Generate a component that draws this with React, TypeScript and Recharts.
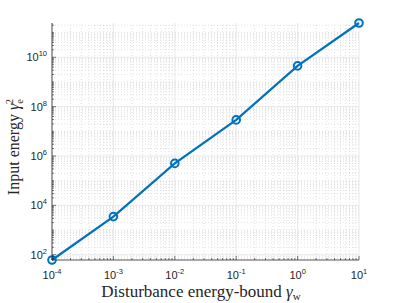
import React from "react";
import { LineChart, Line, XAxis, YAxis, ReferenceLine } from "recharts";

const gammaW = [1e-4, 1e-3, 1e-2, 1e-1, 1, 10];
const inputEnergy = [61, 3.5e3, 5.0e5, 2.9e7, 4.5e9, 2.45e11];
const xTickExps = [-4, -3, -2, -1, 0, 1];
const yTickExps = [2, 4, 6, 8, 10];
const xDomain = [1e-4, 10];
const yDomain = [61, 2.45e11];

const data = gammaW.map((x, i) => ({ x, y: inputEnergy[i] }));

const xMajor = xTickExps.map((e) => Math.pow(10, e));
const yMajor = yTickExps.map((e) => Math.pow(10, e));

function minorValues(lo: number, hi: number, majors: number[]) {
  const out: number[] = [];
  for (let d = Math.floor(Math.log10(lo)); d <= Math.ceil(Math.log10(hi)); d++) {
    for (let k = 1; k <= 9; k++) {
      const v = k * Math.pow(10, d);
      if (v >= lo * 0.999 && v <= hi * 1.001) {
        if (!majors.some((m) => Math.abs(Math.log10(m) - Math.log10(v)) < 1e-6)) out.push(v);
      }
    }
  }
  return out;
}

const xMinor = minorValues(xDomain[0], xDomain[1], xMajor);
const yMinor = minorValues(yDomain[0], yDomain[1], yMajor);
const xAll = [...xMajor, ...xMinor].sort((a, b) => a - b);
const yAll = [...yMajor, ...yMinor].sort((a, b) => a - b);

const isMajor = (v: number, majors: number[]) =>
  majors.some((m) => Math.abs(Math.log10(m) - Math.log10(v)) < 1e-6);

const AXIS = "#262626";
const TICKFONT = "'Liberation Sans', Arial, sans-serif";
const SERIF = "'Liberation Serif', 'Times New Roman', serif";
const BLUE = "#0072BD";

const expLabel = (v: number) => Math.round(Math.log10(v)).toString();

const XTick = (props: any) => {
  const { x, y, payload, top } = props;
  const v = payload.value;
  const maj = isMajor(v, xMajor);
  const len = maj ? 4 : 2;
  const dir = top ? 1 : -1;
  return (
    <g>
      <line x1={x} x2={x} y1={y} y2={y + dir * len} stroke={AXIS} strokeWidth={0.6} />
      {!top && maj && (
        <text x={x} y={y + 19} textAnchor="middle" fontFamily={TICKFONT} fontSize={11} fill={AXIS}>
          <tspan>10</tspan>
          <tspan dy={-5} fontSize={7.5}>{expLabel(v)}</tspan>
        </text>
      )}
    </g>
  );
};

const YTick = (props: any) => {
  const { x, y, payload, right } = props;
  const v = payload.value;
  const maj = isMajor(v, yMajor);
  const len = maj ? 4 : 2;
  const dir = right ? -1 : 1;
  return (
    <g>
      <line x1={x} x2={x + dir * len} y1={y} y2={y} stroke={AXIS} strokeWidth={0.6} />
      {!right && maj && (
        <text x={x - 5} y={y + 4} textAnchor="end" fontFamily={TICKFONT} fontSize={11} fill={AXIS}>
          <tspan>10</tspan>
          <tspan dy={-5} fontSize={7.5}>{expLabel(v)}</tspan>
        </text>
      )}
    </g>
  );
};

const XLabel = () => (
  <text x={201} y={297} textAnchor="middle" fontFamily={SERIF} fontSize={17} fill={AXIS}>
    <tspan>Disturbance energy-bound </tspan>
    <tspan fontStyle="italic">γ</tspan>
    <tspan dy={3} fontSize={11}>w</tspan>
  </text>
);

const YLabel = () => (
  <text
    x={0}
    y={0}
    transform="translate(19,147) rotate(-90)"
    textAnchor="middle"
    fontFamily={SERIF}
    fontSize={16}
    fill={AXIS}
  >
    <tspan>Input energy </tspan>
    <tspan fontStyle="italic">γ</tspan>
    <tspan dy={3.5} fontSize={10.5}>e</tspan>
    <tspan dy={-9.5} dx={-5} fontSize={10.5}>2</tspan>
  </text>
);

export default function App() {
  return (
    <div style={{ position: "absolute", left: 0, top: 0, background: "#fff" }}>
      <LineChart width={397} height={303} data={data} margin={{ top: 23, right: 38, bottom: 0, left: 0 }}>
        {xMinor.map((v) => (
          <ReferenceLine key={"xm" + v} x={v} stroke="#cfcfcf" strokeDasharray="1 2" strokeWidth={0.6} />
        ))}
        {yMinor.map((v) => (
          <ReferenceLine key={"ym" + v} y={v} stroke="#cfcfcf" strokeDasharray="1 2" strokeWidth={0.6} />
        ))}
        {xMajor.map((v) => (
          <ReferenceLine key={"xM" + v} x={v} stroke="#e3e3e3" strokeWidth={0.8} />
        ))}
        {yMajor.map((v) => (
          <ReferenceLine key={"yM" + v} y={v} stroke="#e3e3e3" strokeWidth={0.8} />
        ))}
        <XAxis
          dataKey="x"
          type="number"
          scale="log"
          domain={xDomain}
          ticks={xAll}
          interval={0}
          height={43}
          tickSize={0}
          tickMargin={0}
          tickLine={false}
          axisLine={{ stroke: AXIS, strokeWidth: 0.8 }}
          tick={<XTick />}
          label={{ content: () => <XLabel /> }}
        />
        <XAxis
          xAxisId="top"
          orientation="top"
          dataKey="x"
          type="number"
          scale="log"
          domain={xDomain}
          ticks={xAll}
          interval={0}
          height={0}
          tickSize={0}
          tickMargin={0}
          tickLine={false}
          axisLine={{ stroke: AXIS, strokeWidth: 0.8 }}
          tick={<XTick top />}
        />
        <YAxis
          type="number"
          scale="log"
          domain={yDomain}
          ticks={yAll}
          interval={0}
          width={52}
          tickSize={0}
          tickMargin={0}
          tickLine={false}
          axisLine={{ stroke: AXIS, strokeWidth: 0.8 }}
          tick={<YTick />}
          label={{ content: () => <YLabel /> }}
        />
        <YAxis
          yAxisId="right"
          orientation="right"
          type="number"
          scale="log"
          domain={yDomain}
          ticks={yAll}
          interval={0}
          width={0}
          tickSize={0}
          tickMargin={0}
          tickLine={false}
          axisLine={{ stroke: AXIS, strokeWidth: 0.8 }}
          tick={<YTick right />}
        />
        <Line
          dataKey="y"
          stroke={BLUE}
          strokeWidth={2.2}
          isAnimationActive={false}
          dot={{ r: 3.8, stroke: BLUE, strokeWidth: 2, fill: "none" }}
        />
      </LineChart>
    </div>
  );
}
